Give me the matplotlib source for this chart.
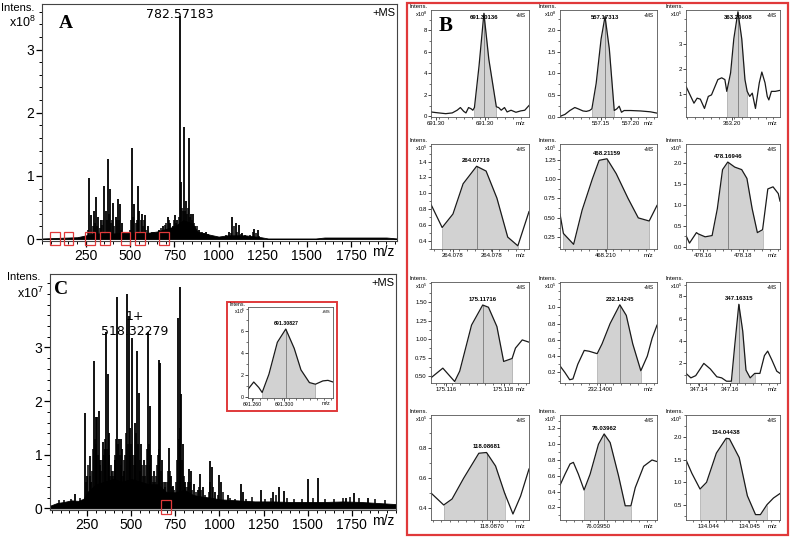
import numpy as np
import matplotlib.pyplot as plt
from matplotlib.patches import Rectangle
from matplotlib.ticker import MultipleLocator, AutoMinorLocator

plt.rcParams['font.family'] = ['Liberation Sans', 'DejaVu Sans']
plt.rcParams['mathtext.default'] = 'regular'

W, H = 791, 540

# ---------------- panel A : full scan, x10^8 ----------------
a_mz = [265, 280, 293, 305, 318, 333, 350, 362, 375, 386, 403, 417, 430, 441, 455,
        512, 523, 542, 552, 565, 584, 599, 660, 683, 713, 727, 740, 755, 766,
        782.57, 789, 804, 816, 831, 842, 854, 869, 888, 926,
        1059, 1078, 1097, 1116, 1135, 1202, 1221]
a_int = [0.97, 0.38, 0.45, 0.66, 0.35, 0.30, 0.84, 0.45, 1.27, 0.80, 0.57, 0.35, 0.63, 0.55, 0.25,
         1.44, 0.55, 0.84, 0.45, 0.40, 0.38, 0.20, 0.15, 0.20, 0.35, 0.25, 0.20, 0.38, 0.30,
         3.53, 0.90, 1.77, 0.60, 1.60, 0.40, 0.40, 0.20, 0.15, 0.12,
         0.12, 0.35, 0.25, 0.22, 0.10, 0.16, 0.15]
a_minor_mz = [258, 287, 299, 311, 326, 340, 344, 368, 380, 392, 397, 410, 423, 436, 448,
              462, 470, 480, 490, 500, 506, 517, 530, 536, 546, 558, 572, 578, 591, 610,
              620, 635, 645, 672, 695, 702, 720, 733, 748, 760, 773, 795, 799, 810, 822,
              826, 836, 848, 860, 875, 895, 905, 915, 940, 1040, 1070, 1088, 1105, 1125,
              1150, 1180, 1195, 1212, 1230]
a_minor_int = [0.15, 0.2, 0.25, 0.2, 0.18, 0.22, 0.3, 0.3, 0.4, 0.25, 0.3, 0.2, 0.3, 0.3, 0.15,
               0.12, 0.1, 0.12, 0.12, 0.15, 0.3, 0.35, 0.25, 0.3, 0.3, 0.3, 0.2, 0.3, 0.15, 0.1,
               0.12, 0.12, 0.1, 0.18, 0.22, 0.25, 0.3, 0.18, 0.3, 0.25, 0.35, 0.5, 0.45, 0.45, 0.4,
               0.5, 0.35, 0.3, 0.25, 0.2, 0.1, 0.12, 0.1, 0.08, 0.06, 0.1, 0.2, 0.12, 0.08,
               0.06, 0.06, 0.12, 0.1, 0.05]
a_floor_mz = [0, 100, 200, 250, 300, 400, 500, 600, 650, 700, 750, 800, 850, 880, 950, 1000,
              1050, 1150, 1240, 1280, 1550, 1600, 1950, 2010]
a_floor_int = [0.01, 0.02, 0.03, 0.06, 0.09, 0.09, 0.1, 0.1, 0.12, 0.16, 0.2, 0.3, 0.25, 0.12,
               0.07, 0.04, 0.06, 0.06, 0.03, 0.01, 0.01, 0.025, 0.025, 0.01]
a_box_mz = [76, 150, 270, 355, 473, 557, 691]

# ---------------- panel C : full scan, x10^7 ----------------
c_mz = [183, 240, 251, 264, 274, 289, 298, 308, 317, 326, 340, 349, 358, 368, 377,
        391, 406, 421, 430, 440, 449, 462, 477, 487, 496, 506, 519, 534, 543, 557,
        572, 594, 604, 613, 628, 655, 664, 675, 689, 713, 723, 736, 764, 774, 783,
        792, 806, 826, 836, 855, 877, 892, 906, 949, 957, 972, 1000, 1009, 1047, 1123,
        1132, 1236, 1302, 1340, 1364, 1504, 1557, 1717, 1764, 1840]
c_int = [0.27, 1.77, 0.6, 0.97, 0.5, 2.75, 1.7, 1.7, 1.82, 0.9, 1.23, 1.1, 3.28, 2.5, 1.4,
         0.7, 0.9, 3.95, 1.3, 1.3, 1.1, 0.7, 4.0, 3.58, 1.5, 3.17, 1.6, 2.94, 2.15, 1.2,
         0.9, 3.28, 1.9, 1.0, 0.7, 2.77, 2.72, 0.9, 0.5, 1.12, 0.6, 0.42, 3.55, 4.12, 2.14,
         1.2, 0.5, 0.73, 0.7, 0.45, 0.35, 0.65, 0.4, 0.88, 0.78, 0.3, 0.63, 0.5, 0.25, 0.46,
         0.3, 0.35, 0.3, 0.40, 0.33, 0.55, 0.57, 0.2, 0.28, 0.2]
c_minor_mz = [90, 120, 160, 210, 245, 256, 269, 280, 284, 293, 303, 312, 321, 331,
              336, 345, 353, 362, 372, 382, 386, 396, 401, 411, 416, 425, 435, 445, 455, 458,
              467, 472, 482, 491, 501, 511, 515, 524, 529, 538, 548, 552, 562, 567, 577, 583,
              589, 599, 608, 618, 623, 633, 640, 646, 650, 660, 669, 680, 694, 700, 706, 718,
              729, 745, 755, 759, 769, 778, 788, 797, 802, 816, 821, 831, 846, 866, 884, 897,
              918, 938, 944, 962, 990, 1018, 1060, 1090, 1150, 1185, 1260, 1290, 1320, 1380,
              1420, 1470, 1530, 1600, 1650, 1700, 1740, 1790, 1880, 1940]
c_minor_int = [0.15, 0.15, 0.18, 0.2, 0.5, 0.8, 0.6, 0.7, 1.1, 1.3, 1.2, 1.0, 0.8, 0.7,
               0.9, 1.0, 1.3, 1.1, 1.0, 0.6, 0.8, 0.6, 0.7, 1.0, 1.3, 1.2, 1.0, 0.8, 0.6, 0.9,
               1.0, 1.4, 1.2, 1.0, 1.2, 1.0, 0.8, 1.0, 1.4, 1.2, 0.9, 0.7, 0.8, 0.6, 0.6, 0.8,
               1.1, 1.2, 0.8, 0.6, 0.5, 0.5, 0.6, 0.8, 1.0, 1.1, 0.7, 0.5, 0.4, 0.5, 0.7, 0.7,
               0.4, 0.35, 0.5, 0.9, 1.3, 1.5, 0.9, 0.6, 0.4, 0.4, 0.5, 0.5, 0.35, 0.3, 0.4, 0.35,
               0.25, 0.3, 0.5, 0.4, 0.25, 0.3, 0.2, 0.18, 0.18, 0.22, 0.18, 0.2, 0.25, 0.2,
               0.18, 0.18, 0.2, 0.18, 0.17, 0.2, 0.22, 0.2, 0.17, 0.15]
c_floor_mz = [40, 80, 120, 160, 200, 230, 250, 300, 350, 400, 450, 500, 550, 600, 650, 700,
              750, 800, 850, 900, 950, 1000, 1100, 1200, 1300, 1400, 1500, 1600, 1700, 1800,
              1900, 2000]
c_floor_int = [0.05, 0.1, 0.12, 0.15, 0.14, 0.18, 0.3, 0.45, 0.5, 0.55, 0.5, 0.55, 0.5, 0.45,
               0.45, 0.3, 0.3, 0.35, 0.25, 0.22, 0.2, 0.17, 0.15, 0.13, 0.13, 0.12, 0.12, 0.12,
               0.13, 0.12, 0.1, 0.08]
c_box_mz = [695]

main_xticks = [250, 500, 750, 1000, 1250, 1500, 1750]
main_yticks = [0, 1, 2, 3]

# ---------------- panel B : zoomed isotope profiles ----------------
b1_x = [691.29974, 691.29989, 691.30019, 691.30039, 691.30054, 691.30064, 691.30074, 691.30081,
        691.30089, 691.30097, 691.30102, 691.30107, 691.30121, 691.30136, 691.30151, 691.30174,
        691.30181, 691.30189, 691.30199, 691.30207, 691.30219, 691.30234, 691.30249, 691.30261,
        691.30274]
b1_y = [0.41, 0.35, 0.25, 0.32, 0.57, 0.82, 0.47, 0.32, 0.82, 0.70, 0.57, 0.82, 4.68, 9.59,
        5.32, 0.89, 0.82, 0.57, 0.82, 0.41, 0.57, 0.38, 0.51, 0.57, 1.01]
b2_x = [557.17176, 557.17181, 557.17191, 557.17206, 557.17221, 557.17231, 557.17246, 557.17256,
        557.17266, 557.17273, 557.17286, 557.17301, 557.17313, 557.17326, 557.17341, 557.17349,
        557.17356, 557.17363, 557.17371, 557.17391, 557.17421, 557.17451, 557.17471]
b2_y = [0.0, 0.02, 0.05, 0.14, 0.21, 0.18, 0.13, 0.12, 0.14, 0.18, 0.77, 1.80, 2.32, 1.57,
        0.14, 0.18, 0.24, 0.10, 0.14, 0.14, 0.13, 0.11, 0.08]
b3_x = [363.20445, 363.20455, 363.20470, 363.20480, 363.20490, 363.20503, 363.20515, 363.20525,
        363.20545, 363.20557, 363.20567, 363.20573, 363.20585, 363.20595, 363.20608, 363.20620,
        363.20630, 363.20637, 363.20645, 363.20653, 363.20663, 363.20675, 363.20683, 363.20693,
        363.20700, 363.20705, 363.20713, 363.20725, 363.20740]
b3_y = [1.31, 1.04, 0.64, 0.84, 0.80, 0.43, 0.91, 0.97, 1.58, 1.65, 1.58, 1.11, 1.85, 3.20,
        4.28, 3.20, 1.58, 1.11, 0.91, 1.04, 0.43, 1.45, 1.88, 1.45, 0.91, 0.77, 1.11, 1.11, 1.15]
b4_x = [264.07584, 264.07617, 264.07649, 264.07679, 264.07719, 264.07747, 264.07779, 264.07811,
        264.07841, 264.07874]
b4_y = [0.86, 0.57, 0.74, 1.12, 1.34, 1.28, 0.94, 0.45, 0.34, 0.77]
b5_x = [468.21021, 468.21031, 468.21061, 468.21086, 468.21116, 468.21136, 468.21159, 468.21186,
        468.21221, 468.21251, 468.21283, 468.21306]
b5_y = [0.55, 0.30, 0.16, 0.60, 1.00, 1.24, 1.26, 1.07, 0.75, 0.50, 0.46, 0.66]
b6_x = [478.16826, 478.16836, 478.16856, 478.16861, 478.16881, 478.16901, 478.16916, 478.16931,
        478.16946, 478.16966, 478.16986, 478.17001, 478.17016, 478.17031, 478.17046, 478.17061,
        478.17076, 478.17091, 478.17096]
b6_y = [0.27, 0.09, 0.34, 0.31, 0.24, 0.27, 0.91, 1.84, 2.02, 1.90, 1.84, 1.63, 0.91, 0.34,
        0.41, 1.38, 1.43, 1.27, 1.09]
b7_x = [175.11563, 175.11598, 175.11633, 175.11648, 175.11683, 175.11716, 175.11733, 175.11758,
        175.11778, 175.11803, 175.11813, 175.11833, 175.11853]
b7_y = [0.48, 0.61, 0.43, 0.57, 1.19, 1.46, 1.43, 1.17, 0.70, 0.74, 0.88, 0.99, 0.96]
b8_x = [232.14060, 232.14075, 232.14090, 232.14100, 232.14115, 232.14135, 232.14150, 232.14175,
        232.14190, 232.14215, 232.14245, 232.14265, 232.14285, 232.14310, 232.14330, 232.14345,
        232.14360]
b8_y = [0.28, 0.20, 0.11, 0.12, 0.30, 0.47, 0.46, 0.43, 0.55, 0.80, 1.03, 0.90, 0.55, 0.22,
        0.40, 0.62, 0.78]
b9_x = [347.16152, 347.16167, 347.16182, 347.16207, 347.16227, 347.16247, 347.16262, 347.16277,
        347.16292, 347.16302, 347.16315, 347.16327, 347.16337, 347.16350, 347.16364, 347.16380,
        347.16394, 347.16404, 347.16417, 347.16432, 347.16442]
b9_y = [1.1, 0.7, 0.9, 2.0, 1.5, 0.8, 0.7, 0.4, 0.4, 3.5, 7.3, 4.9, 1.4, 0.7, 1.1, 1.1, 2.7,
        3.1, 2.3, 1.3, 1.1]
b10_x = [118.08528, 118.08566, 118.08591, 118.08626, 118.08656, 118.08671, 118.08694, 118.08721,
         118.08748, 118.08773, 118.08796, 118.08821]
b10_y = [0.50, 0.42, 0.46, 0.60, 0.71, 0.765, 0.77, 0.68, 0.50, 0.36, 0.48, 0.66]
b11_x = [76.03830, 76.03845, 76.03860, 76.03870, 76.03885, 76.03902, 76.03920, 76.03945,
         76.03962, 76.03980, 76.04005, 76.04025, 76.04042, 76.04055, 76.04080, 76.04105, 76.04120]
b11_y = [0.48, 0.62, 0.75, 0.77, 0.62, 0.42, 0.62, 1.00, 1.13, 1.02, 0.60, 0.22, 0.22, 0.45,
         0.72, 0.80, 0.78]
b12_x = [134.04315, 134.04333, 134.04358, 134.04378, 134.04408, 134.04438, 134.04448, 134.04478,
         134.04503, 134.04528, 134.04543, 134.04563, 134.04583, 134.04603]
b12_y = [1.50, 1.20, 0.85, 1.00, 1.65, 1.98, 1.97, 1.55, 0.70, 0.28, 0.28, 0.50, 0.65, 0.75]

b_labels = ['691.30136', '557.17313', '363.20608', '264.07719', '468.21159', '478.16946',
            '175.11716', '232.14245', '347.16315', '118.08681', '76.03962', '134.04438']
b_exp = [8, 8, 5, 5, 5, 5, 5, 5, 5, 5, 5, 5]
b_fill = [(691.30107, 691.30174), (557.17273, 557.17341), (363.20573, 363.20637),
          (264.07617, 264.07841), (468.21031, 468.21283), (478.16861, 478.17046),
          (175.11633, 175.11803), (232.14175, 232.14310), (347.16292, 347.16364),
          (118.08566, 118.08748), (76.03902, 76.04042), (134.04358, 134.04563)]
b_ylim = [(-0.06, 9.9), (-0.01, 2.47), (0.09, 4.35), (0.30, 1.62), (0.10, 1.45), (-0.05, 2.45),
          (0.41, 1.77), (0.07, 1.31), (0.24, 9.3), (0.32, 1.02), (0.04, 1.37), (0.16, 2.5)]
b_yticks = [[0, 2, 4, 6, 8], [0, 0.5, 1.0, 1.5, 2.0], [1, 2, 3], [0.4, 0.6, 0.8, 1.0, 1.2, 1.4],
            [0.25, 0.5, 0.75, 1.0, 1.25], [0, 0.5, 1.0, 1.5, 2.0], [0.5, 0.75, 1.0, 1.25, 1.5],
            [0.2, 0.4, 0.6, 0.8, 1.0], [2, 4, 6, 8], [0.4, 0.6, 0.8],
            [0.2, 0.4, 0.6, 0.8, 1.0, 1.2], [0.5, 1.0, 1.5, 2.0]]
b_ydec = [0, 1, 0, 1, 2, 1, 2, 1, 0, 1, 1, 1]
b_xticks = [[691.29989, 691.30139], [557.17301, 557.17391], [363.20590],
            [264.07649, 264.07764], [468.21156], [478.16874, 478.16991],
            [175.11608, 175.11778], [232.14185], [347.16192, 347.16287],
            [118.08711], [76.03945], [134.04385, 134.04508]]
b_xlabels = [['691.30', '691.30'], ['557.15', '557.20'], ['363.20'],
             ['264.078', '264.078'], ['468.210'], ['478.16', '478.18'],
             ['175.116', '175.118'], ['232.1400'], ['347.14', '347.16'],
             ['118.0870'], ['76.03950'], ['134.044', '134.045']]
b_x = [b1_x, b2_x, b3_x, b4_x, b5_x, b6_x, b7_x, b8_x, b9_x, b10_x, b11_x, b12_x]
b_y = [b1_y, b2_y, b3_y, b4_y, b5_y, b6_y, b7_y, b8_y, b9_y, b10_y, b11_y, b12_y]

# inset of panel C
ins_x = [691.26347, 691.27027, 691.27627, 691.28027, 691.28827, 691.29827, 691.30827, 691.31827,
         691.32627, 691.33627, 691.34347, 691.35227, 691.35827, 691.36427]
ins_y = [0.74, 1.4, 0.9, 0.45, 2.1, 5.0, 6.2, 4.45, 2.5, 1.35, 1.2, 1.5, 1.55, 1.4]
ins_fill = (691.28027, 691.34347)
ins_xticks = [691.26827, 691.30627]
ins_xlabels = ['691.260', '691.300']
ins_yticks = [0, 2, 4, 6]

RED = '#e0393a'

fig = plt.figure(figsize=(W / 100, H / 100), dpi=100)


def rect(x0, y0, x1, y1):
    return [x0 / W, 1 - y1 / H, (x1 - x0) / W, (y1 - y0) / H]


def ftext(x, y, s, **kw):
    fig.text(x / W, 1 - y / H, s, **kw)


def main_panel(box, mz, inten, mmz, mint, fmz, fint, xlim, ylim):
    ax = fig.add_axes(rect(*box))
    ax.fill_between(fmz, 0, fint, color='black', lw=0.6)
    ax.vlines(mmz, 0, mint, color='black', lw=1.1)
    ax.vlines(mz, 0, inten, color='black', lw=1.3)
    ax.set_xlim(xlim)
    ax.set_ylim(ylim)
    ax.set_xticks(main_xticks)
    ax.xaxis.set_minor_locator(MultipleLocator(50))
    ax.set_yticks(main_yticks)
    ax.yaxis.set_minor_locator(MultipleLocator(0.2))
    ax.tick_params(which='major', direction='out', length=4, width=0.9, labelsize=10, pad=1.5)
    ax.tick_params(which='minor', direction='out', length=2.5, width=0.7)
    for s in ax.spines.values():
        s.set_linewidth(0.8)
        s.set_color('#444444')
    ax.text(0.962, -0.018, 'm/z', transform=ax.transAxes, ha='center', va='top', fontsize=10)
    ax.text(0.995, 0.985, '+MS', transform=ax.transAxes, ha='right', va='top', fontsize=8)
    return ax


def profile_panel(box, x, y, fill, ylim, yticks, ydec, xticks, xlabels, label, exp, fs=4.3):
    ax = fig.add_axes(rect(*box))
    x = np.array(x)
    y = np.array(y)
    m = (x >= fill[0] - 1e-7) & (x <= fill[1] + 1e-7)
    ax.fill_between(x, ylim[0], y, where=m, color='#d2d2d2', lw=0)
    i = int(np.argmax(np.where(m, y, -np.inf)))
    ax.vlines(x[i], ylim[0], y[i], color='#7a7a7a', lw=0.6)
    ax.vlines(fill, ylim[0], np.interp(fill, x, y), color='#a8a8a8', lw=0.5)
    ax.plot(x, y, color='#1a1a1a', lw=0.9)
    ax.set_xlim(x[0], x[-1])
    ax.set_ylim(ylim)
    ax.set_yticks(yticks)
    ax.set_yticklabels([f'{t:.{ydec}f}' for t in yticks])
    ax.yaxis.set_minor_locator(AutoMinorLocator(2))
    ax.set_xticks(xticks)
    ax.set_xticklabels(xlabels)
    ax.xaxis.set_minor_locator(MultipleLocator((x[-1] - x[0]) / 12))
    ax.tick_params(which='major', direction='out', length=2, width=0.5, labelsize=fs, pad=1)
    ax.tick_params(which='minor', direction='out', length=1.2, width=0.4)
    for s in ax.spines.values():
        s.set_linewidth(0.6)
        s.set_color('#555555')
    fy = min((y[i] - ylim[0]) / (ylim[1] - ylim[0]) + 0.03, 0.91)
    ax.text(x[i], fy, label, transform=ax.get_xaxis_transform(), ha='center', va='bottom',
            fontsize=fs, fontweight='bold')
    ax.text(0.97, 0.97, '+MS', transform=ax.transAxes, ha='right', va='top', fontsize=fs - 0.8)
    ax.text(-0.03, 1.03, 'Intens.', transform=ax.transAxes, ha='right', va='center', fontsize=fs)
    ax.text(-0.03, 0.955, f'x10$^{exp}$', transform=ax.transAxes, ha='right', va='center',
            fontsize=fs - 0.3)
    ax.text(0.915, -0.035, 'm/z', transform=ax.transAxes, ha='center', va='top', fontsize=fs)
    return ax


# ---- panel A ----
axA = main_panel((42, 4, 397, 241), a_mz, a_int, a_minor_mz, a_minor_int,
                 a_floor_mz, a_floor_int, (0, 2010), (-0.03, 3.72))
for bm in a_box_mz:
    axA.add_patch(Rectangle((bm - 28, -0.1), 56, 0.22, fill=False, edgecolor=RED, lw=0.9,
                            clip_on=False, zorder=5))
axA.text(782.57, 3.56, '782.57183', ha='center', va='center', fontsize=9,
         family=['DejaVu Sans'])
ftext(34, 8, 'Intens.', ha='right', va='center', fontsize=8)
ftext(36, 22, 'x10$^8$', ha='right', va='center', fontsize=9)
ftext(66, 23, 'A', ha='center', va='center', fontsize=14, fontweight='bold',
      family=['Liberation Serif'])

# ---- panel C ----
axC = main_panel((50, 274, 396, 510), c_mz, c_int, c_minor_mz, c_minor_int,
                 c_floor_mz, c_floor_int, (40, 2000), (-0.03, 4.37))
for bm in c_box_mz:
    axC.add_patch(Rectangle((bm - 29, -0.1), 58, 0.26, fill=False, edgecolor=RED, lw=0.9,
                            clip_on=False, zorder=5))
axC.text(518.32, 3.57, '1+', ha='center', va='center', fontsize=9, family=['DejaVu Sans'])
axC.text(518.32, 3.29, '518.32279', ha='center', va='center', fontsize=9,
         family=['DejaVu Sans'])
ftext(40, 277, 'Intens.', ha='right', va='center', fontsize=8)
ftext(44, 293, 'x10$^7$', ha='right', va='center', fontsize=9)
ftext(61, 289, 'C', ha='center', va='center', fontsize=14, fontweight='bold',
      family=['Liberation Serif'])

# inset of C
fig.patches.append(Rectangle((227 / W, 1 - 411 / H), 110 / W, 109 / H, transform=fig.transFigure,
                             facecolor='white', edgecolor=RED, lw=1.4, zorder=3))
axI = profile_panel((248, 307, 333, 398), ins_x, ins_y, ins_fill, (-0.05, 8.2), ins_yticks, 0,
                    ins_xticks, ins_xlabels, '691.30827', 5, fs=3.8)
axI.set_zorder(4)

# ---- panel B ----
fig.patches.append(Rectangle((407 / W, 1 - 535 / H), 381 / W, 532 / H, transform=fig.transFigure,
                             facecolor='none', edgecolor=RED, lw=1.6, zorder=3))
row_y = [(10, 117), (144, 249), (282, 383), (415, 520)]
col_x = [(431, 529), (560, 657), (686, 780)]
for k in range(12):
    r, c = divmod(k, 3)
    box = (col_x[c][0], row_y[r][0], col_x[c][1], row_y[r][1])
    profile_panel(box, b_x[k], b_y[k], b_fill[k], b_ylim[k], b_yticks[k], b_ydec[k],
                  b_xticks[k], b_xlabels[k], b_labels[k], b_exp[k])
ftext(446, 26, 'B', ha='center', va='center', fontsize=15, fontweight='bold',
      family=['Liberation Serif'], zorder=10)

fig.savefig('out.png', dpi=100)
